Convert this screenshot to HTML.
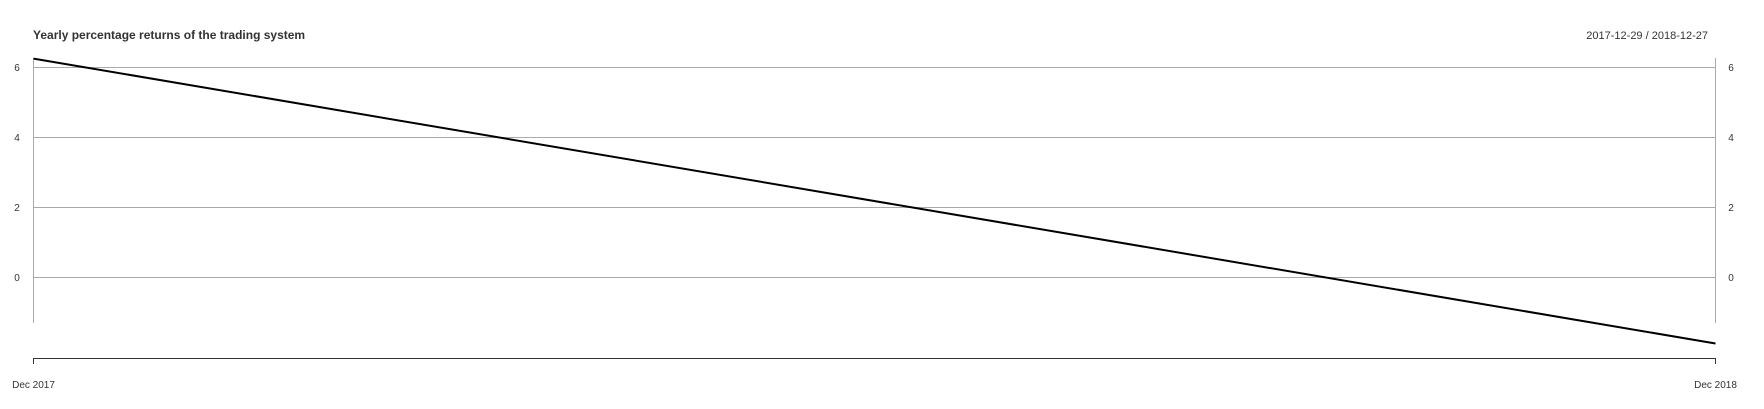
<!DOCTYPE html>
<html><head><meta charset="utf-8"><style>
html,body{margin:0;padding:0;background:#fff;}
svg{display:block;font-family:"Liberation Sans",Arial,sans-serif;}
</style></head><body>
<svg id="chart" width="1764" height="409">
<text x="33" y="39" font-size="12" font-weight="bold" fill="#333">Yearly percentage returns of the trading system</text>
<text x="1708" y="39" font-size="11" fill="#333" text-anchor="end">2017-12-29 / 2018-12-27</text>
<g id="grid"></g>
<line x1="33.5" y1="58" x2="33.5" y2="323" stroke="#aaa"/>
<line x1="1715.5" y1="58" x2="1715.5" y2="323" stroke="#aaa"/>
<line x1="33" y1="358.5" x2="1716" y2="358.5" stroke="#333"/>
<g id="xaxis"></g>
<g id="series"></g>
</svg>
<script>
const yTicks=[6,4,2,0];
const xLabels=["Dec 2017","Dec 2018"];
const dates=[0,1];
const returns=[6.24,-1.9];
const NS="http://www.w3.org/2000/svg";
const x0=33.5,x1=1715.5;
function yS(v){return 277-v*35;}
function xS(i){return x0+(x1-x0)*i;}
function mk(t,a,p){const e=document.createElementNS(NS,t);for(const k in a)e.setAttribute(k,a[k]);p.appendChild(e);return e;}
const grid=document.getElementById('grid');
yTicks.forEach(v=>{
  const l=mk('line',{x1:33,x2:1716,y1:yS(v)+0.5,y2:yS(v)+0.5,stroke:'#aaa'},grid);
  
  
  const t=mk('text',{x:17,y:yS(v)+4,'font-size':10,fill:'#333','text-anchor':'middle'},grid);
  t.textContent=v;
  
  
  const t2=mk('text',{x:1731,y:yS(v)+4,'font-size':10,fill:'#333','text-anchor':'middle'},grid);
  t2.textContent=v;
  
  
});
const xa=document.getElementById('xaxis');
xLabels.forEach((s,i)=>{
  const tk=mk('line',{x1:xS(i),x2:xS(i),y1:358,y2:364,stroke:'#333'},xa);
  
  
  const t=mk('text',{x:xS(i),y:388,'font-size':10,fill:'#333','text-anchor':'middle'},xa);
  t.textContent=s;
  
  
});
const pts=dates.map((d,i)=>xS(d)+','+yS(returns[i])).join(' ');
const pl=mk('polyline',{points:pts,fill:'none',stroke:'#000','stroke-width':2},document.getElementById('series'));


</script>
</body></html>
